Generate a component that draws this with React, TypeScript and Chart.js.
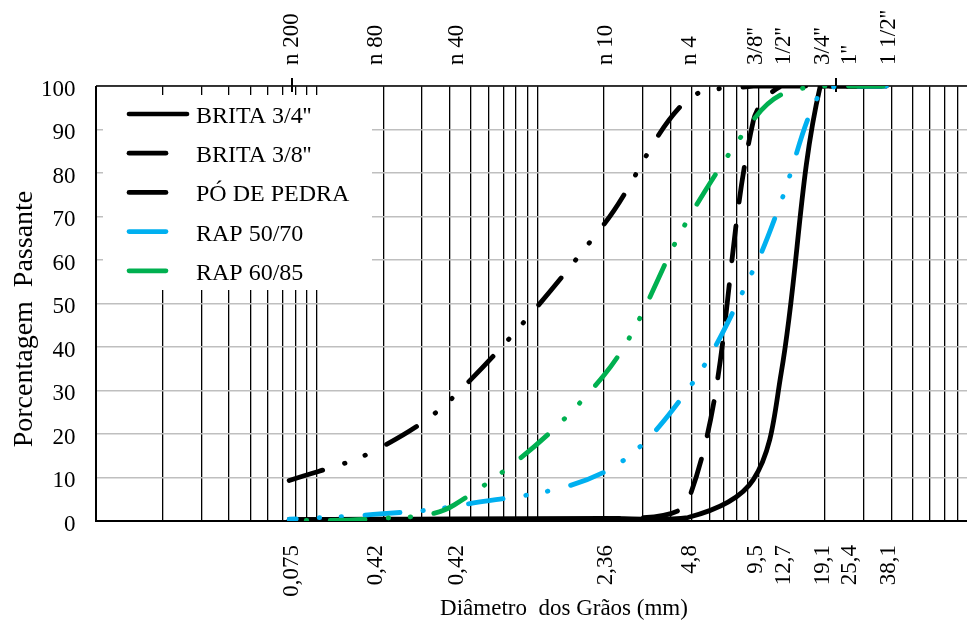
import React, { useEffect, useRef } from 'react';
import { Chart, registerables } from 'chart.js';

Chart.register(...registerables);

// ---- data ----
const sieveSizes = [0.075, 0.18, 0.42, 2.0, 4.8, 9.5, 12.7, 19.1, 25.4, 38.1];
const sieveNames = ['n 200', 'n 80', 'n 40', 'n 10', 'n 4', "3/8''", "1/2''", "3/4''", "1''", "1 1/2''"];
const sieveLabels = ['0,075', '0,42', '0,42', '2,36', '4,8', '9,5', '12,7', '19,1', '25,4', '38,1'];

const brita34 = [0.3, 0.4, 0.5, 0.6, 0.8, 9.5, 34, 100, 100, 100];
const brita38 = [0.3, 0.3, 0.3, 0.4, 4.5, 92, 100, 100, 100, 100];
const poDePedra = [9.3, 16, 28.7, 68.2, 97, 100, 100, 100, 100, 100];
const rap5070 = [0.4, 1.5, 3.4, 11.2, 30.2, 57.7, 73.5, 98.5, 100, 100];
const rap6085 = [0.1, 0.5, 3.7, 33.5, 69.3, 92.2, 98, 100, 100, 100];

const seriesNames = ["BRITA 3/4''", "BRITA 3/8''", 'PÓ DE PEDRA', 'RAP 50/70', 'RAP 60/85'];

const yTickValues = [0, 10, 20, 30, 40, 50, 60, 70, 80, 90, 100];
const decades = [0.01, 0.1, 1, 10];
const multipliers = [1, 2, 3, 4, 5, 6, 7, 8, 9];
const xMin = 0.01;
const xMax = 100;
const topMarks = [0.0775, 22.5];

const xTitle = 'Diâmetro  dos Grãos (mm)';
const yTitle = 'Porcentagem  Passante';

// ---- styles ----
const FONT = "'Liberation Serif', 'Times New Roman', serif";
const BLACK = '#000000';
const BLUE = '#00B0F0';
const GREEN = '#00B050';
const LONG_DASH = [35, 24];
const DASH_DOT_DOT = [35, 23, 0.5, 21.5, 0.5, 23.5];

const W = 990;
const H = 620;
const PLOT = { left: 96, top: 86, right: 979, bottom: 521 };

const gridValues: number[] = [];
decades.forEach((d) => multipliers.forEach((m) => gridValues.push(+(d * m).toPrecision(6))));
gridValues.push(xMax);

function toPoints(vals: number[]) {
  return sieveSizes.map((s, i) => ({ x: s, y: vals[i] }));
}

const legendStyles = [
  { color: BLACK, long: true },
  { color: BLACK, long: false },
  { color: BLACK, long: false },
  { color: BLUE, long: false },
  { color: GREEN, long: false },
];

const decorPlugin = {
  id: 'decor',
  beforeDatasetsDraw(chart: any) {
    const { ctx, chartArea: a, scales } = chart;
    const x = scales.x;
    ctx.save();
    // legend background
    ctx.fillStyle = '#ffffff';
    ctx.fillRect(103, 95, 269, 195);
    // plot border
    ctx.strokeStyle = BLACK;
    ctx.lineCap = 'butt';
    ctx.lineWidth = 2;
    ctx.beginPath();
    ctx.moveTo(a.left, a.top);
    ctx.lineTo(a.left, a.bottom);
    ctx.lineTo(a.right, a.bottom);
    ctx.lineTo(a.right, a.top);
    ctx.stroke();
    ctx.lineWidth = 1.5;
    ctx.beginPath();
    ctx.moveTo(a.left, a.top);
    ctx.lineTo(a.right, a.top);
    ctx.stroke();
    // small marks on top border
    ctx.lineWidth = 2;
    topMarks.forEach((v) => {
      const px = Math.round(x.getPixelForValue(v));
      ctx.beginPath();
      ctx.moveTo(px, a.top - 8);
      ctx.lineTo(px, a.top + 6);
      ctx.stroke();
    });
    // legend
    ctx.lineCap = 'round';
    ctx.lineWidth = 4.7;
    ctx.font = `24px ${FONT}`;
    ctx.textAlign = 'left';
    ctx.textBaseline = 'alphabetic';
    seriesNames.forEach((name, i) => {
      const ly = 114 + i * 39.2;
      const st = legendStyles[i];
      ctx.strokeStyle = st.color;
      ctx.beginPath();
      ctx.moveTo(129, ly);
      ctx.lineTo(st.long ? 187 : 166, ly);
      ctx.stroke();
      ctx.fillStyle = BLACK;
      ctx.fillText(name, 196, ly + 9);
    });
    ctx.restore();
  },
  afterDraw(chart: any) {
    const { ctx, scales } = chart;
    const x = scales.x;
    const y = scales.y;
    ctx.save();
    ctx.fillStyle = BLACK;
    // y tick labels
    ctx.font = `23px ${FONT}`;
    ctx.textAlign = 'right';
    ctx.textBaseline = 'alphabetic';
    yTickValues.forEach((v) => {
      ctx.fillText(String(v), 75.5, y.getPixelForValue(v) + 9.5);
    });
    // top sieve names and bottom sizes (rotated)
    sieveSizes.forEach((s, i) => {
      const px = x.getPixelForValue(s);
      ctx.save();
      ctx.translate(px + 8.5, 65);
      ctx.rotate(-Math.PI / 2);
      ctx.textAlign = 'left';
      ctx.fillText(sieveNames[i], 0, 0);
      ctx.restore();
      ctx.save();
      ctx.translate(px + 8.5, 545);
      ctx.rotate(-Math.PI / 2);
      ctx.textAlign = 'right';
      ctx.fillText(sieveLabels[i], 0, 0);
      ctx.restore();
    });
    // x title
    ctx.textAlign = 'center';
    ctx.fillText(xTitle, 564, 615);
    // y title
    ctx.font = `28px ${FONT}`;
    ctx.save();
    ctx.translate(32, 319);
    ctx.rotate(-Math.PI / 2);
    ctx.textAlign = 'center';
    ctx.fillText(yTitle, 0, 0);
    ctx.restore();
    ctx.restore();
  },
};

export default function App() {
  const ref = useRef<HTMLCanvasElement>(null);
  useEffect(() => {
    if (!ref.current) return;
    const mk = (label: string, vals: number[], color: string, dash: number[], offset: number, order: number) => ({
      label,
      data: toPoints(vals),
      borderColor: color,
      backgroundColor: color,
      borderWidth: 4.8,
      borderDash: dash,
      borderDashOffset: offset,
      borderCapStyle: 'round',
      borderJoinStyle: 'round',
      pointRadius: 0,
      fill: false,
      tension: 0.35,
      order,
    });
    const chart = new Chart(ref.current, {
      type: 'line',
      data: {
        datasets: [
          mk(seriesNames[0], brita34, BLACK, [], 0, 5),
          mk(seriesNames[1], brita38, BLACK, LONG_DASH, 0, 4),
          mk(seriesNames[2], poDePedra, BLACK, DASH_DOT_DOT, 0, 3),
          mk(seriesNames[3], rap5070, BLUE, DASH_DOT_DOT, 28, 2),
          mk(seriesNames[4], rap6085, GREEN, DASH_DOT_DOT, 63, 1),
        ] as any,
      },
      options: {
        responsive: false,
        animation: false,
        devicePixelRatio: 1,
        layout: {
          padding: { left: PLOT.left, top: PLOT.top, right: W - PLOT.right, bottom: H - PLOT.bottom },
        },
        plugins: { legend: { display: false }, tooltip: { enabled: false } },
        scales: {
          x: {
            type: 'logarithmic',
            min: xMin,
            max: xMax,
            afterBuildTicks: (s: any) => {
              s.ticks = gridValues.map((v) => ({ value: v }));
            },
            ticks: { display: false },
            grid: { color: BLACK, lineWidth: 1.3, drawTicks: false },
            border: { display: false },
          },
          y: {
            type: 'linear',
            min: 0,
            max: 100,
            afterBuildTicks: (s: any) => {
              s.ticks = yTickValues.map((v) => ({ value: v }));
            },
            ticks: { display: false },
            grid: { color: '#BFBFBF', lineWidth: 1.5, drawTicks: false },
            border: { display: false },
          },
        },
      } as any,
      plugins: [decorPlugin],
    });
    return () => chart.destroy();
  }, []);
  return (
    <div style={{ position: 'fixed', left: 0, top: 0, width: 967, height: 620, overflow: 'hidden', background: '#fff' }}>
      <canvas ref={ref} width={W} height={H} style={{ width: W, height: H, display: 'block' }} />
    </div>
  );
}
